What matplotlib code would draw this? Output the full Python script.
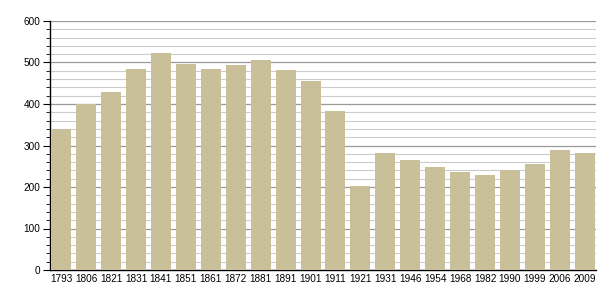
import matplotlib
matplotlib.use("Agg")
import matplotlib.pyplot as plt
from matplotlib.ticker import MultipleLocator

years = ["1793", "1806", "1821", "1831", "1841", "1851", "1861", "1872", "1881",
         "1891", "1901", "1911", "1921", "1931", "1946", "1954", "1968", "1982",
         "1990", "1999", "2006", "2009"]
population = [339, 399, 430, 485, 524, 497, 485, 495, 506, 483, 456, 384,
              203, 282, 265, 249, 235, 230, 241, 256, 288, 282]

plt.rcParams["font.family"] = ["Liberation Sans", "DejaVu Sans"]

fig = plt.figure(figsize=(6.05, 3.0), dpi=100)
ax = fig.add_axes([50 / 605, 30 / 300, 546 / 605, 249 / 300])

x = range(len(years))
ax.bar(x, population, width=0.8, color="#c9bf98", zorder=3)

ax.set_xlim(-0.45, len(years) - 0.55)
ax.set_ylim(0, 600)
ax.yaxis.set_major_locator(MultipleLocator(100))
ax.yaxis.set_minor_locator(MultipleLocator(20))
ax.grid(axis="y", which="major", color="#999999", linewidth=0.9, zorder=1)
ax.grid(axis="y", which="minor", color="#cccccc", linewidth=0.8, zorder=1)

ax.set_xticks(list(x))
ax.set_xticklabels(years)
ax.tick_params(axis="x", length=0, labelsize=7.2, pad=3)
ax.tick_params(axis="y", which="major", length=5, width=0.8, labelsize=7.2, pad=2)
ax.tick_params(axis="y", which="minor", length=3, width=0.6)

for side in ("top", "right"):
    ax.spines[side].set_visible(False)
ax.spines["left"].set_linewidth(1.0)
ax.spines["bottom"].set_linewidth(1.0)
ax.set_axisbelow(True)

fig.savefig("out.png", dpi=100)
